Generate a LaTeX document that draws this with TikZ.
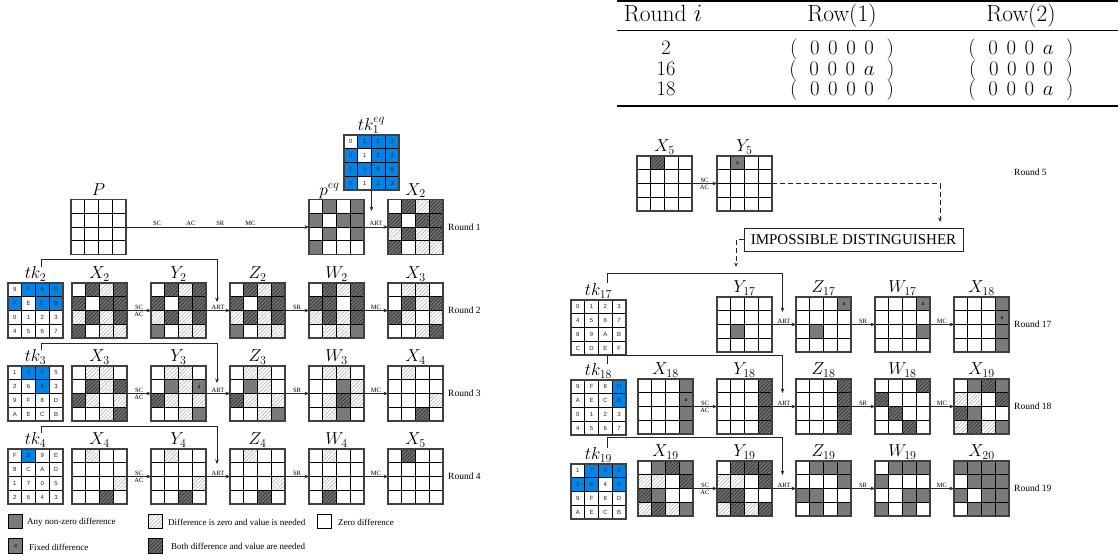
\documentclass[tikz,border=0pt]{standalone}
\usepackage{fontspec}
\newfontfamily\tms{Liberation Serif}
\newfontfamily\hlv{Liberation Sans}
\usetikzlibrary{patterns.meta,arrows.meta,calc}
\definecolor{tkblue}{RGB}{0,132,232}
\definecolor{cgray}{RGB}{122,122,122}
\definecolor{dgray}{RGB}{112,112,112}
\definecolor{dline}{RGB}{50,50,50}
\definecolor{lline}{RGB}{180,180,180}
\tikzset{
  gbox/.style={minimum width=55pt,minimum height=55pt,inner sep=0pt,outer sep=0pt},
  gout/.style={draw=black!75,line width=1.1pt},
  cellW/.style={draw=black,line width=0.55pt,fill=white},
  cellG/.style={draw=black,line width=0.55pt,fill=cgray},
  cellA/.style={cellG},
  cellD/.style={preaction={fill=dgray},pattern={Lines[angle=45,distance=2.6pt,line width=0.7pt]},pattern color=dline,draw=black,line width=0.55pt},
  cellL/.style={preaction={fill=white},pattern={Lines[angle=45,distance=2.6pt,line width=0.6pt]},pattern color=lline,draw=black,line width=0.55pt},
  tkw/.style={draw=black,line width=0.55pt,fill=white},
  tkb/.style={draw=black,line width=0.55pt,fill=tkblue},
  tktxt/.style={font=\hlv\fontsize{6}{6}\selectfont,inner sep=0pt,text=black!85},
  atxt/.style={font=\tms\fontsize{6.5}{6.5}\selectfont,inner sep=0pt},
  glbl/.style={anchor=base,inner sep=0pt,font=\fontsize{17}{20}\selectfont},
  oplbl/.style={font=\tms\fontsize{6.5}{7}\selectfont,inner sep=1pt},
  rlbl/.style={font=\tms\fontsize{9.5}{11}\selectfont,inner sep=0pt,anchor=west},
  legtxt/.style={font=\tms\fontsize{9}{11}\selectfont,inner sep=0pt,anchor=west},
  legbox/.style={minimum size=14.5pt,inner sep=0pt},
  arr/.style={draw=black!85,line width=0.7pt,-{Stealth[length=4.5pt,width=3.6pt]}},
  darr/.style={arr,dash pattern=on 5pt off 3pt},
  tbl/.style={font=\fontsize{23.5}{27}\selectfont,inner sep=0pt,anchor=base},
  tblr/.style={font=\fontsize{20.5}{24}\selectfont,inner sep=0pt,anchor=base},
}
\newcommand\dgrid[4]{%
  \node[gbox] (#1) at (#2+27.5,#3+27.5) {};
  \foreach \c [count=\i from 0] in {#4}{%
    \pgfmathsetmacro\cx{#2+mod(\i,4)*13.75}%
    \pgfmathsetmacro\cy{#3+int(\i/4)*13.75}%
    \path[cell\c] (\cx,\cy) rectangle ++(13.75,13.75);%
    \if\c A\node[atxt] (#1-\i) at (\cx+6.875,\cy+6.875) {a};\fi
  }%
  \draw[gout] (#1.north west) rectangle (#1.south east);
}
\newcommand\tkgrid[4]{%
  \node[gbox] (#1) at (#2+27.5,#3+27.5) {};
  \foreach \t/\b [count=\i from 0] in {#4}{%
    \pgfmathsetmacro\cx{#2+mod(\i,4)*13.75}%
    \pgfmathsetmacro\cy{#3+int(\i/4)*13.75}%
    \path[tk\b] (\cx,\cy) rectangle ++(13.75,13.75);%
    \node[tktxt] (#1-\i) at (\cx+6.875,\cy+6.875) {\t};%
  }%
  \draw[gout] (#1.north west) rectangle (#1.south east);
}
\newcommand\gridlbl[2]{\node[glbl] (#1-l) at ([yshift=4.5pt]#1.north) {#2};}
\newcommand\oparr[3]{\draw[arr] (#1.east) -- node[oplbl,above] (#1-op) {#3} (#2.west);}
\newcommand\scarr[2]{\draw[arr] (#1.east) -- node[oplbl,above] (#1-sc) {SC} node[oplbl,below] (#1-ac) {AC} (#2.west);}
\newcommand\rowv[4]{$(\hspace{0.62em}#1\hspace{0.42em}#2\hspace{0.42em}#3\hspace{0.42em}#4\hspace{0.62em})$}
\begin{document}
\begin{tikzpicture}[x=1pt,y=-1pt]
\useasboundingbox (0,0) rectangle (1120,560);
\fill[white] (0,0) rectangle (1120,560);
% ---------------- table
\draw[line width=1.5pt] (617,1.2) -- (1118,1.2);
\draw[line width=0.8pt] (617,30.5) -- (1118,30.5);
\draw[line width=1.5pt] (617,106) -- (1118,106);
\node[tbl] (th1) at (663,21) {Round $i$};
\node[tbl] (th2) at (842,21) {Row(1)};
\node[tbl] (th3) at (1021,21) {Row(2)};
\node[tblr] (ta1) at (666,54.5) {2};
\node[tblr] (ta2) at (842,54.5) {\rowv0000};
\node[tblr] (ta3) at (1021,54.5) {\rowv000a};
\node[tblr] (tb1) at (666,75) {16};
\node[tblr] (tb2) at (842,75) {\rowv000a};
\node[tblr] (tb3) at (1021,75) {\rowv0000};
\node[tblr] (tc1) at (666,95.5) {18};
\node[tblr] (tc2) at (842,95.5) {\rowv0000};
\node[tblr] (tc3) at (1021,95.5) {\rowv000a};
% ---------------- round 1
\tkgrid{r1tk}{344}{135}{0/w,1/b,2/b,3/b,0/b,1/w,2/b,3/b,7/b,4/b,5/b,6/b,0/b,1/w,2/b,3/b}
\gridlbl{r1tk}{$tk_1^{eq}$}
\dgrid{r1P}{71}{199.5}{W,W,W,W,W,W,W,W,W,W,W,W,W,W,W,W}
\gridlbl{r1P}{$P$}
\dgrid{r1peq}{309}{199.5}{W,G,W,G,G,W,G,G,W,G,W,G,G,W,W,W}
\node[glbl] (r1peq-l) at ([yshift=4.5pt,xshift=-7pt]r1peq.north) {$p^{eq}$};
\dgrid{r1X}{388}{199.5}{W,D,L,D,D,W,D,D,L,D,L,D,D,W,L,L}
\gridlbl{r1X}{$X_2$}
\draw[arr] (r1P.east) -- node[oplbl,above,pos=0.17] (o1a) {SC} node[oplbl,above,pos=0.355] (o1b) {AC} node[oplbl,above,pos=0.515] (o1c) {SR} node[oplbl,above,pos=0.68] (o1d) {MC} (r1peq.west);
\oparr{r1peq}{r1X}{ART}
\coordinate (e1) at (371.5,211);
\draw[arr] (r1tk.south) -- (e1);
\node[rlbl] (R1) at ([xshift=5pt]r1X.east) {Round 1};
% ---------------- round 2
\tkgrid{r2tk}{8}{283}{9/w,F/b,8/b,D/b,A/b,E/w,C/b,B/b,0/w,1/w,2/w,3/w,4/w,5/w,6/w,7/w}
\gridlbl{r2tk}{$tk_2$}
\dgrid{r2X}{72}{283}{W,D,L,D,D,W,D,D,L,D,L,D,D,W,L,L}
\gridlbl{r2X}{$X_2$}
\dgrid{r2Y}{151}{283}{W,D,L,D,D,W,D,D,L,D,L,D,G,W,L,L}
\gridlbl{r2Y}{$Y_2$}
\dgrid{r2Z}{230}{283}{W,D,L,D,D,W,D,D,L,D,L,D,G,W,L,L}
\gridlbl{r2Z}{$Z_2$}
\dgrid{r2W}{309}{283}{W,D,L,D,D,D,W,D,L,D,L,D,W,L,L,G}
\gridlbl{r2W}{$W_2$}
\dgrid{r2N}{388}{283}{W,L,L,W,W,D,L,D,D,L,W,L,W,W,L,D}
\gridlbl{r2N}{$X_3$}
\scarr{r2X}{r2Y}
\oparr{r2Y}{r2Z}{ART}
\oparr{r2Z}{r2W}{SR}
\oparr{r2W}{r2N}{MC}
\coordinate (s2) at (41,267); \coordinate (c2) at (41,259); \coordinate (e2) at (217,302);
\draw[arr] (s2) -- (c2) -| (e2);
\node[rlbl] (R2) at ([xshift=5pt]r2N.east) {Round 2};
% ---------------- round 3
\tkgrid{r3tk}{8}{366}{1/w,7/b,0/b,5/w,2/w,6/w,4/b,3/w,9/w,F/w,8/w,D/w,A/w,E/w,C/w,B/w}
\gridlbl{r3tk}{$tk_3$}
\dgrid{r3X}{72}{366}{W,L,L,W,W,D,L,D,D,L,W,L,W,W,L,D}
\gridlbl{r3X}{$X_3$}
\dgrid{r3Y}{151}{366}{W,L,L,W,W,G,L,A,D,L,W,L,W,W,L,G}
\gridlbl{r3Y}{$Y_3$}
\dgrid{r3Z}{230}{366}{W,L,L,W,W,G,L,W,D,L,W,L,W,W,L,G}
\gridlbl{r3Z}{$Z_3$}
\dgrid{r3W}{309}{366}{W,L,L,W,W,W,G,L,W,L,D,L,W,L,G,W}
\gridlbl{r3W}{$W_3$}
\dgrid{r3N}{388}{366}{W,L,W,W,W,W,W,W,W,W,W,L,W,W,D,W}
\gridlbl{r3N}{$X_4$}
\scarr{r3X}{r3Y}
\oparr{r3Y}{r3Z}{ART}
\oparr{r3Z}{r3W}{SR}
\oparr{r3W}{r3N}{MC}
\coordinate (s3) at (41,350); \coordinate (c3) at (41,343); \coordinate (e3) at (217,383);
\draw[arr] (s3) -- (c3) -| (e3);
\node[rlbl] (R3) at ([xshift=5pt]r3N.east) {Round 3};
% ---------------- round 4
\tkgrid{r4tk}{8}{449}{F/w,B/b,9/w,E/w,8/w,C/w,A/w,D/w,1/w,7/w,0/w,5/w,2/w,6/w,4/w,3/w}
\gridlbl{r4tk}{$tk_4$}
\dgrid{r4X}{72}{449}{W,L,W,W,W,W,W,W,W,W,W,L,W,W,D,W}
\gridlbl{r4X}{$X_4$}
\dgrid{r4Y}{151}{449}{W,L,W,W,W,W,W,W,W,W,W,L,W,W,D,W}
\gridlbl{r4Y}{$Y_4$}
\dgrid{r4Z}{230}{449}{W,L,W,W,W,W,W,W,W,W,W,L,W,W,D,W}
\gridlbl{r4Z}{$Z_4$}
\dgrid{r4W}{309}{449}{W,L,W,W,W,W,W,W,W,L,W,W,W,D,W,W}
\gridlbl{r4W}{$W_4$}
\dgrid{r4N}{388}{449}{W,D,W,W,W,W,W,W,W,W,W,W,W,W,W,W}
\gridlbl{r4N}{$X_5$}
\scarr{r4X}{r4Y}
\oparr{r4Y}{r4Z}{ART}
\oparr{r4Z}{r4W}{SR}
\oparr{r4W}{r4N}{MC}
\coordinate (s4) at (41,433); \coordinate (c4) at (41,426); \coordinate (e4) at (217,464);
\draw[arr] (s4) -- (c4) -| (e4);
\node[rlbl] (R4) at ([xshift=5pt]r4N.east) {Round 4};
% ---------------- legend
\node[legbox,cellG] (lg1) at (15.5,521.5) {};
\node[legtxt] (lt1) at (27,522) {Any non-zero difference};
\node[legbox,cellL] (lg2) at (155.5,521.5) {};
\node[legtxt] (lt2) at (168,522) {Difference is zero and value is needed};
\node[legbox,cellW] (lg3) at (324.5,521.5) {};
\node[legtxt] (lt3) at (338,522) {Zero difference};
\node[legbox,cellG,font=\tms\fontsize{6.5}{6.5}\selectfont] (lg4) at (15.5,546) {a};
\node[legtxt] (lt4) at (29,547) {Fixed difference};
\node[legbox,cellD] (lg5) at (155.5,546) {};
\node[legtxt] (lt5) at (171,546.5) {Both difference and value are needed};
% ---------------- round 5 (right)
\dgrid{r5X}{637}{156}{W,D,W,W,W,W,W,W,W,W,W,W,W,W,W,W}
\gridlbl{r5X}{$X_5$}
\dgrid{r5Y}{717}{156}{W,A,W,W,W,W,W,W,W,W,W,W,W,W,W,W}
\gridlbl{r5Y}{$Y_5$}
\scarr{r5X}{r5Y}
\node[rlbl] (R5) at (1014,172) {Round 5};
\node[draw=black!85,line width=0.7pt,minimum width=219pt,minimum height=23pt,inner sep=0pt,font=\tms\fontsize{15}{17}\selectfont] (ID) at (853.5,239.5) {IMPOSSIBLE DISTINGUISHER};
\coordinate (d1) at (940,222);
\draw[darr] (r5Y.east) -| (d1);
\coordinate (d2) at (736,267);
\draw[darr] (ID.west) -| (d2);
% ---------------- round 17
\tkgrid{r17tk}{571}{300}{0/w,1/w,2/w,3/w,4/w,5/w,6/w,7/w,8/w,9/w,A/w,B/w,C/w,D/w,E/w,F/w}
\gridlbl{r17tk}{$tk_{17}$}
\dgrid{r17Y}{717}{297}{W,W,W,W,W,W,W,W,W,G,W,W,W,W,W,W}
\gridlbl{r17Y}{$Y_{17}$}
\dgrid{r17Z}{796}{297}{W,W,W,A,W,W,W,W,W,G,W,W,W,W,W,W}
\gridlbl{r17Z}{$Z_{17}$}
\dgrid{r17W}{875}{297}{W,W,W,A,W,W,W,W,W,W,W,G,W,W,W,W}
\gridlbl{r17W}{$W_{17}$}
\dgrid{r17N}{954}{297}{W,W,W,G,W,W,W,A,W,W,W,G,W,W,W,G}
\gridlbl{r17N}{$X_{18}$}
\oparr{r17Y}{r17Z}{ART}
\oparr{r17Z}{r17W}{SR}
\oparr{r17W}{r17N}{MC}
\coordinate (s17) at (607,283); \coordinate (c17) at (607,273); \coordinate (e17) at (782.5,312);
\draw[arr] (s17) -- (c17) -| (e17);
\node[rlbl] (R17) at ([xshift=5pt]r17N.east) {Round 17};
% ---------------- round 18
\tkgrid{r18tk}{571}{380}{9/w,F/w,8/w,D/b,A/w,E/w,C/w,B/b,0/w,1/w,2/w,3/w,4/w,5/w,6/w,7/w}
\gridlbl{r18tk}{$tk_{18}$}
\dgrid{r18X}{638}{379}{W,W,W,G,W,W,W,A,W,W,W,G,W,W,W,G}
\gridlbl{r18X}{$X_{18}$}
\dgrid{r18Y}{717}{379}{W,W,W,D,W,W,W,D,W,W,W,D,W,W,W,D}
\gridlbl{r18Y}{$Y_{18}$}
\dgrid{r18Z}{796}{379}{W,W,W,D,W,W,W,D,W,W,W,D,W,W,W,D}
\gridlbl{r18Z}{$Z_{18}$}
\dgrid{r18W}{875}{379}{W,W,W,D,D,W,W,W,W,D,W,W,W,W,D,W}
\gridlbl{r18W}{$W_{18}$}
\dgrid{r18N}{954}{379}{W,G,D,G,L,L,W,D,D,G,W,W,L,D,L,G}
\gridlbl{r18N}{$X_{19}$}
\scarr{r18X}{r18Y}
\oparr{r18Y}{r18Z}{ART}
\oparr{r18Z}{r18W}{SR}
\oparr{r18W}{r18N}{MC}
\coordinate (s18) at (607,364); \coordinate (c18) at (607,355); \coordinate (e18) at (782.5,393);
\draw[arr] (s18) -- (c18) -| (e18);
\node[rlbl] (R18) at ([xshift=5pt]r18N.east) {Round 18};
% ---------------- round 19
\tkgrid{r19tk}{571}{464}{1/w,7/b,0/b,5/b,2/b,6/b,4/w,3/b,9/w,F/w,8/w,D/w,A/w,E/w,C/w,B/w}
\gridlbl{r19tk}{$tk_{19}$}
\dgrid{r19X}{638}{461}{W,G,D,G,L,L,W,D,D,G,W,W,L,D,L,G}
\gridlbl{r19X}{$X_{19}$}
\dgrid{r19Y}{717}{461}{W,D,D,D,L,L,W,D,D,D,W,W,L,D,L,D}
\gridlbl{r19Y}{$Y_{19}$}
\dgrid{r19Z}{796}{461}{W,G,G,G,W,W,W,G,G,G,W,W,W,G,W,G}
\gridlbl{r19Z}{$Z_{19}$}
\dgrid{r19W}{875}{461}{W,G,G,G,G,W,W,W,W,W,G,G,G,W,G,W}
\gridlbl{r19W}{$W_{19}$}
\dgrid{r19N}{954}{461}{G,G,G,G,W,G,G,G,G,W,G,G,W,G,G,G}
\gridlbl{r19N}{$X_{20}$}
\scarr{r19X}{r19Y}
\oparr{r19Y}{r19Z}{ART}
\oparr{r19Z}{r19W}{SR}
\oparr{r19W}{r19N}{MC}
\coordinate (s19) at (607,448); \coordinate (c19) at (607,437); \coordinate (e19) at (782.5,475);
\draw[arr] (s19) -- (c19) -| (e19);
\node[rlbl] (R19) at ([xshift=5pt]r19N.east) {Round 19};
\end{tikzpicture}
\end{document}
